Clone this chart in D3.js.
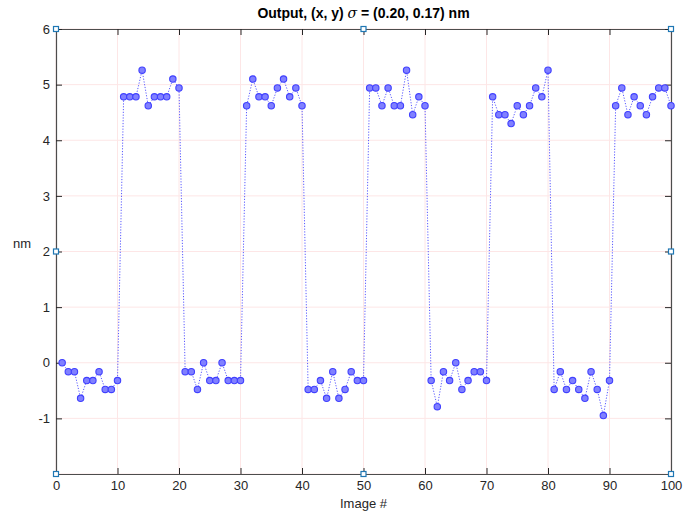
<!DOCTYPE html>
<html>
<head>
<meta charset="utf-8">
<script src="https://cdn.jsdelivr.net/npm/d3@7"></script>
<style>
  body { margin: 0; background: #fff; }
  text { font-family: "Liberation Sans", Arial, sans-serif; }
</style>
</head>
<body>
<div id="chart"></div>
<script>
// image numbers 1..100 and measured output (nm)
var imageNo = d3.range(1, 101);
var outputNm = [
  0, -0.16, -0.16, -0.64, -0.32, -0.32, -0.16, -0.48, -0.48, -0.32,
  4.78, 4.78, 4.78, 5.26, 4.62, 4.78, 4.78, 4.78, 5.1, 4.94,
  -0.16, -0.16, -0.48, 0, -0.32, -0.32, 0, -0.32, -0.32, -0.32,
  4.62, 5.1, 4.78, 4.78, 4.62, 4.94, 5.1, 4.78, 4.94, 4.62,
  -0.48, -0.48, -0.32, -0.64, -0.16, -0.64, -0.48, -0.16, -0.32, -0.32,
  4.94, 4.94, 4.62, 4.94, 4.62, 4.62, 5.26, 4.46, 4.78, 4.62,
  -0.32, -0.79, -0.16, -0.32, 0, -0.48, -0.32, -0.16, -0.16, -0.32,
  4.78, 4.46, 4.46, 4.3, 4.62, 4.46, 4.62, 4.94, 4.78, 5.26,
  -0.48, -0.16, -0.48, -0.32, -0.48, -0.64, -0.16, -0.48, -0.95, -0.32,
  4.62, 4.94, 4.46, 4.78, 4.62, 4.46, 4.78, 4.94, 4.94, 4.62
];
var xTicks = [0, 10, 20, 30, 40, 50, 60, 70, 80, 90, 100];
var yTicks = [-1, 0, 1, 2, 3, 4, 5, 6];
var yGrid = [-2, -1, 0, 1, 2, 3, 4, 5, 6];
// edit handles shown on the axes box
var handleX = [0, 50, 100, 0, 100, 0, 50, 100];
var handleY = [6, 6, 6, 2, 2, -2, -2, -2];

var data = imageNo.map(function (n, i) { return { x: n, y: outputNm[i] }; });

var outerWidth = 687, outerHeight = 514;
var margin = { left: 56, top: 29, right: 16, bottom: 40 };
var innerWidth = outerWidth - margin.left - margin.right;
var innerHeight = outerHeight - margin.top - margin.bottom;

var svg = d3.select('#chart').append('svg')
    .attr('width', outerWidth)
    .attr('height', outerHeight);
var g = svg.append('g')
    .attr('transform', 'translate(' + margin.left + ',' + margin.top + ')');

var xScale = d3.scaleLinear().domain([0, 100]).range([0, innerWidth]);
var yScale = d3.scaleLinear().domain([-2, 6]).range([innerHeight, 0]);

// grid
g.append('g').selectAll('line.vg').data(xTicks).enter().append('line')
    .attr('x1', function (d) { return xScale(d); })
    .attr('x2', function (d) { return xScale(d); })
    .attr('y1', 0).attr('y2', innerHeight)
    .attr('stroke', '#fde6e6').attr('stroke-width', 1);
g.append('g').selectAll('line.hg').data(yGrid).enter().append('line')
    .attr('y1', function (d) { return yScale(d); })
    .attr('y2', function (d) { return yScale(d); })
    .attr('x1', 0).attr('x2', innerWidth)
    .attr('stroke', '#fde6e6').attr('stroke-width', 1);

// axes (ticks inward, box on)
function styleAxis(sel) {
  sel.select('.domain').attr('stroke', '#4d4d4d').attr('stroke-width', 1.2);
  sel.selectAll('.tick line').attr('stroke', '#262626');
  sel.selectAll('.tick text').attr('fill', '#262626')
     .style('font-size', '13px').style('font-family', '"Liberation Sans", Arial, sans-serif');
}
function plain(d) { return String(d); }
g.append('g').attr('transform', 'translate(0,' + innerHeight + ')')
    .call(d3.axisBottom(xScale).tickValues(xTicks).tickSize(-6).tickPadding(7).tickSizeOuter(0).tickFormat(plain))
    .call(styleAxis);
g.append('g')
    .call(d3.axisTop(xScale).tickValues(xTicks).tickSize(-6).tickSizeOuter(0))
    .call(styleAxis)
    .selectAll('.tick text').remove();
g.append('g')
    .call(d3.axisLeft(yScale).tickValues(yTicks).tickSize(-6).tickPadding(6).tickSizeOuter(0).tickFormat(plain))
    .call(styleAxis);
g.append('g').attr('transform', 'translate(' + innerWidth + ',0)')
    .call(d3.axisRight(yScale).tickValues(yTicks).tickSize(-6).tickSizeOuter(0))
    .call(styleAxis)
    .selectAll('.tick text').remove();

// dotted line + markers
var line = d3.line()
    .x(function (d) { return xScale(d.x); })
    .y(function (d) { return yScale(d.y); });
g.append('path')
    .attr('d', line(data))
    .attr('fill', 'none')
    .attr('stroke', '#5a5aff')
    .attr('stroke-width', 1)
    .attr('stroke-dasharray', '1.2,1.6');
g.append('g').selectAll('circle').data(data).enter().append('circle')
    .attr('cx', function (d) { return xScale(d.x); })
    .attr('cy', function (d) { return yScale(d.y); })
    .attr('r', 3.2)
    .attr('fill', '#8080ff')
    .attr('stroke', '#4040ff')
    .attr('stroke-width', 1.1);

// handles
g.append('g').selectAll('rect').data(handleX).enter().append('rect')
    .attr('x', function (d) { return xScale(d) - 2.5; })
    .attr('y', function (d, i) { return yScale(handleY[i]) - 2.5; })
    .attr('width', 5).attr('height', 5)
    .attr('fill', '#fff')
    .attr('stroke', '#1f77b4')
    .attr('stroke-width', 1.2);

// title
var title = svg.append('text')
    .attr('x', margin.left + innerWidth / 2)
    .attr('y', 18)
    .attr('text-anchor', 'middle')
    .attr('fill', '#000')
    .style('font-size', '14px')
    .style('font-weight', 'bold');
title.append('tspan').text('Output, (x, y) ');
title.append('tspan').style('font-style', 'italic').style('font-weight', 'normal')
    .style('font-family', '"DejaVu Serif", serif').text('σ');
title.append('tspan').text(' = (0.20, 0.17) nm');

// axis labels
svg.append('text')
    .attr('x', margin.left + innerWidth / 2)
    .attr('y', 508)
    .attr('text-anchor', 'middle')
    .attr('fill', '#262626')
    .style('font-size', '13px')
    .text('Image #');
svg.append('text')
    .attr('x', 22)
    .attr('y', 248)
    .attr('text-anchor', 'middle')
    .attr('fill', '#262626')
    .style('font-size', '13px')
    .text('nm');
</script>
</body>
</html>
